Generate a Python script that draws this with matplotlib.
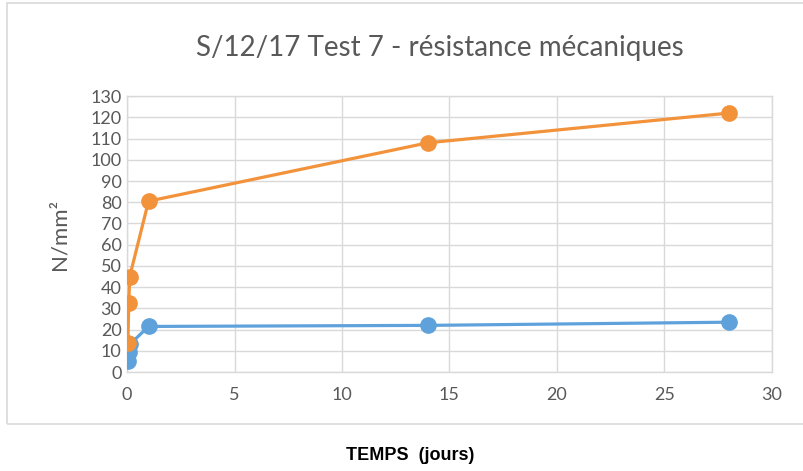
"""
Recreate the S/12/17 Test 7 mechanical strength chart (Excel style).
"""

import matplotlib

matplotlib.use("Agg")
import matplotlib.pyplot as plt
from matplotlib.patches import Rectangle

# Time in days, strength in N/mm2
TIME_DAYS = [0.04, 0.08, 0.125, 1, 14, 28]
SERIES_BLUE = [5, 9.5, 13, 21.5, 22, 23.5]
SERIES_ORANGE = [13.5, 32.5, 45, 80.5, 108, 122]

X_TICKS = [0, 5, 10, 15, 20, 25, 30]
Y_TICKS = list(range(0, 131, 10))

TITLE = "S/12/17 Test 7 - résistance mécaniques"
Y_LABEL = "N/mm²"
X_LABEL = "TEMPS  (jours)"

BLUE = "#5FA2DB"
ORANGE = "#F2923B"
GRID = "#D9D9D9"
TEXT = "#595959"
FONT = ["Lato", "DejaVu Sans"]


def main() -> None:
    fig = plt.figure(figsize=(8.04, 4.71), dpi=100)
    fig.patch.set_facecolor("white")

    # chart area border (Excel chart frame)
    fig.add_artist(
        Rectangle((0.009, 0.1), 1.2, 0.893, transform=fig.transFigure,
                  fill=False, edgecolor=GRID, linewidth=1.2)
    )

    ax = fig.add_axes([0.158, 0.21, 0.802, 0.586])
    ax.plot(TIME_DAYS, SERIES_BLUE, color=BLUE, lw=2.3, marker="o",
            markersize=11, zorder=3)
    ax.plot(TIME_DAYS, SERIES_ORANGE, color=ORANGE, lw=2.3, marker="o",
            markersize=11, zorder=4)

    ax.set_xlim(0, 30)
    ax.set_ylim(0, 130)
    ax.set_xticks(X_TICKS)
    ax.set_yticks(Y_TICKS)
    ax.grid(True, color=GRID, linewidth=1.0)
    ax.set_axisbelow(True)
    for spine in ax.spines.values():
        spine.set_color(GRID)
        spine.set_linewidth(1.0)
    ax.tick_params(length=0, labelsize=13, labelcolor=TEXT)
    ax.tick_params(axis="y", pad=4)
    ax.tick_params(axis="x", pad=11)
    for lbl in ax.get_xticklabels() + ax.get_yticklabels():
        lbl.set_family(FONT)

    ax.set_ylabel(Y_LABEL, fontsize=16, color=TEXT, family=FONT, labelpad=15)

    fig.text(0.547, 0.898, TITLE, ha="center", va="center", fontsize=20,
             color=TEXT, family=FONT)
    fig.text(0.51, 0.033, X_LABEL, ha="center", va="center", fontsize=13,
             fontweight="bold", color="black", family="Liberation Sans")

    fig.savefig("out.png", dpi=100, facecolor="white")
    plt.close(fig)


if __name__ == "__main__":
    main()
